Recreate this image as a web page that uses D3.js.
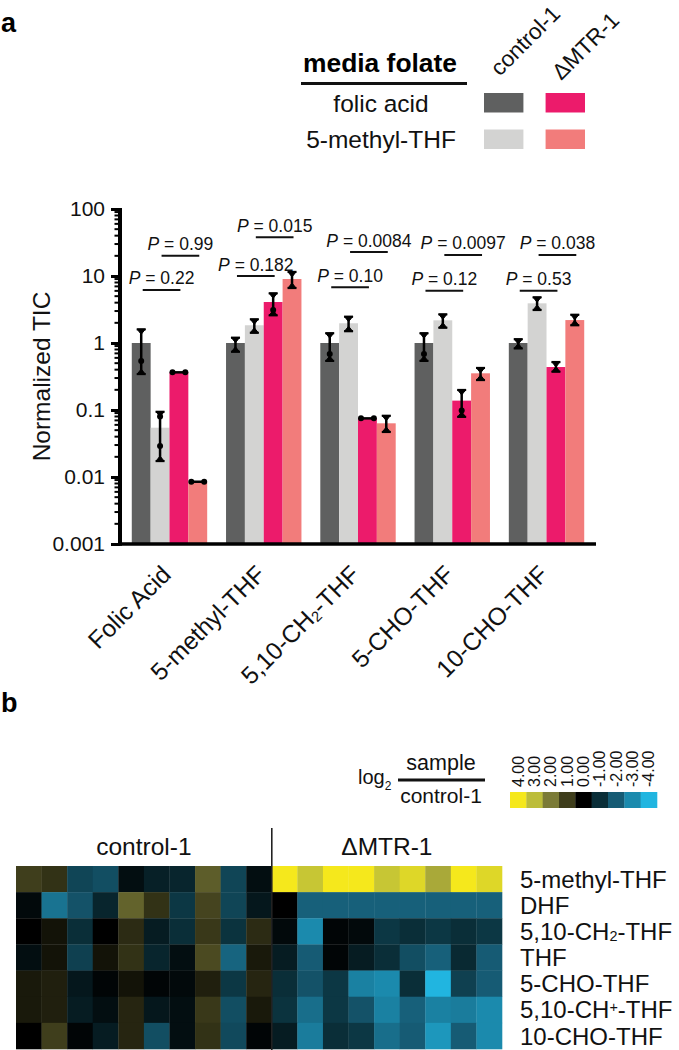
<!DOCTYPE html>
<html>
<head>
<meta charset="utf-8">
<script src="https://cdn.jsdelivr.net/npm/d3@7"></script>
<style>
  html, body { margin: 0; padding: 0; background: #fff; }
  svg { display: block; font-family: "Liberation Sans", Arial, Helvetica, sans-serif; }
</style>
</head>
<body>
<svg id="chart" width="679" height="1050"></svg>
<script>
// ---------------- DATA ----------------
const categories = ["Folic Acid", "5-methyl-THF", "5,10-CH₂-THF", "5-CHO-THF", "10-CHO-THF"];
const seriesKeys = ["ctrlFolic", "ctrlMethyl", "mtrFolic", "mtrMethyl"];
const seriesColors = ["#5f6060", "#d3d3d2", "#ec1b6b", "#f27c7b"];

const ctrlFolic   = [1, 1, 1, 1, 1];
const ctrlMethyl  = [0.0544, 1.84, 1.97, 2.18, 3.91];
const mtrFolic    = [0.365, 4.09, 0.075, 0.138, 0.438];
const mtrMethyl   = [0.0085, 9.02, 0.0633, 0.353, 2.2];

const ctrlFolicLo  = [0.344, 0.74, 0.54, 0.54, 0.83];
const ctrlFolicHi  = [1.60, 1.2, 1.40, 1.40, 1.14];
const ctrlMethylLo = [0.0173, 1.42, 1.50, 1.69, 3.11];
const ctrlMethylHi = [0.094, 2.26, 2.47, 2.68, 4.81];
const mtrFolicLo   = [0.365, 2.59, 0.075, 0.079, 0.373];
const mtrFolicHi   = [0.365, 5.52, 0.075, 0.199, 0.52];
const mtrMethylLo  = [0.0085, 6.62, 0.047, 0.28, 1.84];
const mtrMethylHi  = [0.0085, 11.5, 0.082, 0.424, 2.64];

const ctrlFolicPts  = [[0.54], [], [0.685], [0.685], []];
const ctrlMethylPts = [[0.08, 0.029], [], [], [], []];
const mtrFolicPts   = [[], [3.11], [], [0.098], []];
const mtrMethylPts  = [[], [], [], [], []];

const yTickValues = [0.001, 0.01, 0.1, 1, 10, 100];
const yTickLabels = ["0.001", "0.01", "0.1", "1", "10", "100"];

const pLow       = ["0.22", "0.182", "0.10", "0.12", "0.53"];
const pLowLevel  = [6.2, 10, 6.8, 6.0, 6.0];
const pHigh      = ["0.99", "0.015", "0.0084", "0.0097", "0.038"];
const pHighLevel = [20, 38, 22.8, 20.6, 20.6];

const legendRows = ["folic acid", "5-methyl-THF"];
const legendCols = ["control-1", "ΔMTR-1"];

const heatRows = ["5-methyl-THF", "DHF", "5,10-CH₂-THF", "THF", "5-CHO-THF", "5,10-CH⁺-THF", "10-CHO-THF"];
const heatGroups = ["control-1", "ΔMTR-1"];
const heatControl = [
  [1.0, 0.8, -1.5, -1.7, -0.3, -0.7, -0.8, 1.5, -1.5, -0.3],
  [-0.2, -2.5, -1.8, -0.8, 1.6, 0.8, -1.2, 1.1, -1.5, -0.5],
  [0.0, 0.3, -1.0, 0.0, 0.7, -0.6, -1.0, 0.9, -1.1, 0.7],
  [-0.3, 0.3, -1.4, 0.3, 0.8, -0.8, -0.3, 1.2, -2.2, 0.4],
  [0.4, 0.5, -0.5, -0.1, 0.3, -0.1, -0.2, 0.5, -1.2, 0.6],
  [0.4, 0.5, -0.6, -0.3, 0.6, -0.5, -0.3, 0.9, -1.7, 0.4],
  [0.0, 1.0, -0.1, -0.6, 0.6, -1.7, -0.3, 0.8, -1.6, -0.1]
];
const heatMTR = [
  [4.0, 3.2, 4.0, 4.0, 3.2, 3.6, 2.7, 4.0, 3.6],
  [0.0, -2.1, -2.1, -2.1, -2.1, -2.1, -2.1, -2.1, -2.1],
  [-0.2, -3.0, -0.1, -0.2, -1.2, -1.0, -1.2, -1.0, -1.2],
  [-0.6, -2.0, -0.1, -0.6, -1.0, -1.7, -2.1, -0.9, -2.0],
  [-1.0, -1.8, -1.2, -2.8, -3.0, -1.0, -4.0, -1.4, -2.0],
  [-1.1, -2.4, -1.2, -1.8, -2.8, -2.1, -2.8, -2.7, -3.0],
  [-0.6, -2.7, -1.0, -1.2, -2.4, -2.0, -3.3, -2.0, -3.0]
];

const cbValues = [4, 3, 2, 1, 0, -1, -2, -3, -4];
const cbLabels = ["4.00", "3.00", "2.00", "1.00", "0.00", "-1.00", "-2.00", "-3.00", "-4.00"];
const cbColors = ["#f5e81c", "#bcbd3a", "#7b7b37", "#3f3e1c", "#000000", "#0a2e38", "#165b74", "#1b8aad", "#21b5e0"];

// ---------------- HELPERS ----------------
const svg = d3.select("#chart");
svg.append("rect").attr("width", 679).attr("height", 1050).attr("fill", "#fff");

function richText(sel, str, fs) {
  sel.text(null);
  const parts = str.split(/([₂⁺])/);
  parts.forEach(p => {
    if (!p) return;
    if (p === "₂") {
      sel.append("tspan").attr("font-size", fs * 0.6).attr("baseline-shift", "-10%").text("2");
    } else if (p === "⁺") {
      sel.append("tspan").attr("font-size", fs * 0.6).attr("baseline-shift", "45%").text("+");
    } else {
      sel.append("tspan").text(p);
    }
  });
}

// ---------------- PANEL LABELS ----------------
svg.append("text").attr("x", 1).attr("y", 32).attr("font-size", 27).attr("font-weight", "bold").text("a");
svg.append("text").attr("x", 1).attr("y", 712).attr("font-size", 27).attr("font-weight", "bold").text("b");

// ---------------- LEGEND ----------------
const lg = svg.append("g");
lg.append("text").attr("x", 380).attr("y", 72).attr("text-anchor", "middle")
  .attr("font-size", 25).attr("font-weight", "bold")
  .attr("textLength", 154).attr("lengthAdjust", "spacingAndGlyphs").text("media folate");
lg.append("line").attr("x1", 301).attr("x2", 467).attr("y1", 83.5).attr("y2", 83.5)
  .attr("stroke", "#111").attr("stroke-width", 3);
const legRowY = d3.scaleBand().domain(legendRows).range([93, 149]).paddingInner(0.466);
const legColX = d3.scaleBand().domain(legendCols).range([484, 585]).paddingInner(0.36);
legendRows.forEach((r, ri) => {
  lg.append("text").attr("x", 381).attr("y", legRowY(r) + legRowY.bandwidth() / 2)
    .attr("dy", "0.36em").attr("text-anchor", "middle").attr("font-size", 24.5).attr("fill", "#111").text(r);
  legendCols.forEach((c, ci) => {
    lg.append("rect").attr("x", legColX(c)).attr("y", legRowY(r))
      .attr("width", legColX.bandwidth()).attr("height", legRowY.bandwidth())
      .attr("fill", seriesColors[ci * 2 + ri]);
  });
});
legendCols.forEach((c, ci) => {
  const x0 = legColX(c) + legColX.bandwidth() / 2 - 4;
  lg.append("text").attr("transform", `translate(${x0},${ci === 0 ? 77 : 81}) rotate(-45)`)
    .attr("font-size", 22.5).attr("fill", "#111").text(c);
});

// ---------------- BAR CHART ----------------
const x = d3.scaleBand().domain(categories).range([120, 596]).paddingInner(0.2).paddingOuter(0.125);
const xs = d3.scaleBand().domain(seriesKeys).range([0, x.bandwidth()]).padding(0);
const y = d3.scaleLog().domain([0.001, 100]).range([544, 209]);

const values = { ctrlFolic, ctrlMethyl, mtrFolic, mtrMethyl };
const los = { ctrlFolic: ctrlFolicLo, ctrlMethyl: ctrlMethylLo, mtrFolic: mtrFolicLo, mtrMethyl: mtrMethylLo };
const his = { ctrlFolic: ctrlFolicHi, ctrlMethyl: ctrlMethylHi, mtrFolic: mtrFolicHi, mtrMethyl: mtrMethylHi };
const pts = { ctrlFolic: ctrlFolicPts, ctrlMethyl: ctrlMethylPts, mtrFolic: mtrFolicPts, mtrMethyl: mtrMethylPts };

const barData = [];
categories.forEach((cat, ci) => {
  seriesKeys.forEach((k, si) => {
    barData.push({ cat, key: k, si, v: values[k][ci], lo: los[k][ci], hi: his[k][ci], pts: pts[k][ci] });
  });
});

const bars = svg.append("g");
bars.selectAll("rect").data(barData).join("rect")
  .attr("x", d => x(d.cat) + xs(d.key))
  .attr("width", xs.bandwidth())
  .attr("y", d => y(d.v))
  .attr("height", d => y(0.001) - y(d.v))
  .attr("fill", d => seriesColors[d.si]);

// error bars
const eb = svg.append("g").attr("fill", "#000").attr("stroke", "#000");
barData.forEach(d => {
  const cx = x(d.cat) + xs(d.key) + xs.bandwidth() / 2;
  if (d.lo === d.hi) {
    const x0 = x(d.cat) + xs(d.key) + 3, x1 = x(d.cat) + xs(d.key) + xs.bandwidth() - 3;
    eb.append("line").attr("x1", x0).attr("x2", x1).attr("y1", y(d.v)).attr("y2", y(d.v)).attr("stroke-width", 2.5);
    [x0, x1].forEach(px => eb.append("circle").attr("cx", px).attr("cy", y(d.v)).attr("r", 3).attr("stroke", "none"));
    return;
  }
  const yh = y(d.hi), yl = y(d.lo);
  eb.append("line").attr("x1", cx).attr("x2", cx).attr("y1", yh).attr("y2", yl).attr("stroke-width", 2.5);
  eb.append("path").attr("stroke-width", 1).attr("stroke-linejoin", "round")
    .attr("d", `M${cx - 4},${yh} L${cx + 4},${yh} L${cx},${yh + 5} Z`);
  eb.append("path").attr("stroke-width", 1).attr("stroke-linejoin", "round")
    .attr("d", `M${cx - 4},${yl} L${cx + 4},${yl} L${cx},${yl - 5} Z`);
  eb.append("line").attr("x1", cx - 4.5).attr("x2", cx + 4.5).attr("y1", yh).attr("y2", yh).attr("stroke-width", 2.2);
  eb.append("line").attr("x1", cx - 4.5).attr("x2", cx + 4.5).attr("y1", yl).attr("y2", yl).attr("stroke-width", 2.2);
  d.pts.forEach(p => eb.append("circle").attr("cx", cx).attr("cy", y(p)).attr("r", 3).attr("stroke", "none"));
});

// y axis
const yAxisG = svg.append("g").attr("transform", "translate(120,0)");
const minorTicks = [];
for (let e = -3; e < 2; e++) for (let m = 2; m <= 9; m++) minorTicks.push(m * Math.pow(10, e));
yAxisG.selectAll("line.minor").data(minorTicks).join("line").attr("class", "minor")
  .attr("x1", -5.5).attr("x2", 0).attr("y1", d => y(d)).attr("y2", d => y(d))
  .attr("stroke", "#000").attr("stroke-width", 2);
const yAxis = d3.axisLeft(y).tickValues(yTickValues).tickFormat((d, i) => yTickLabels[i]).tickSize(9).tickPadding(6);
yAxisG.call(yAxis);
yAxisG.select(".domain").remove();
yAxisG.selectAll(".tick line").attr("stroke", "#000").attr("stroke-width", 3);
yAxisG.selectAll(".tick text").attr("font-size", 21).attr("fill", "#111")
  .attr("font-family", "'Liberation Sans', Arial, sans-serif");
yAxisG.append("line").attr("x1", 0).attr("x2", 0).attr("y1", y(100) - 1).attr("y2", y(0.001) + 1.75)
  .attr("stroke", "#000").attr("stroke-width", 4);

// x axis
svg.append("line").attr("x1", 118).attr("x2", 596).attr("y1", y(0.001)).attr("y2", y(0.001))
  .attr("stroke", "#000").attr("stroke-width", 3.5);
const xLabG = svg.append("g");
categories.forEach(cat => {
  const t = xLabG.append("text")
    .attr("transform", `translate(${x(cat) + x.bandwidth() / 2 + 3},${576}) rotate(-45)`)
    .attr("text-anchor", "end").attr("font-size", 24.5).attr("fill", "#111");
  richText(t, cat, 24.5);
});

// y label
svg.append("text").attr("transform", `translate(50,${(y(100) + y(0.001)) / 2}) rotate(-90)`)
  .attr("text-anchor", "middle").attr("font-size", 24.5).attr("fill", "#111").text("Normalized TIC");

// p-value annotations
const pg = svg.append("g");
categories.forEach((cat, ci) => {
  const defs = [
    { a: "ctrlFolic", b: "mtrFolic", lvl: pLowLevel[ci], txt: pLow[ci] },
    { a: "ctrlMethyl", b: "mtrMethyl", lvl: pHighLevel[ci], txt: pHigh[ci] }
  ];
  defs.forEach(dd => {
    const x1 = x(cat) + xs(dd.a) + xs.bandwidth() / 2 + 1.5;
    const x2 = x(cat) + xs(dd.b) + xs.bandwidth() / 2 + 1.5;
    const yy = y(dd.lvl);
    pg.append("line").attr("x1", x1).attr("x2", x2).attr("y1", yy).attr("y2", yy)
      .attr("stroke", "#111").attr("stroke-width", 2);
    const t = pg.append("text").attr("x", (x1 + x2) / 2).attr("y", yy - 5.5)
      .attr("text-anchor", "middle").attr("font-size", 17.5).attr("fill", "#111");
    t.append("tspan").attr("font-style", "italic").text("P");
    t.append("tspan").text(" = " + dd.txt);
  });
});

// ---------------- HEATMAP ----------------
const colIds = [];
heatControl[0].forEach((_, i) => colIds.push("c" + i));
heatMTR[0].forEach((_, i) => colIds.push("m" + i));
const hx = d3.scaleBand().domain(colIds).range([16, 502]).padding(0);
const hy = d3.scaleBand().domain(heatRows).range([866, 1049]).padding(0);
const color = d3.scaleLinear().domain(cbValues).range(cbColors).clamp(true);

const cells = [];
heatRows.forEach((r, ri) => {
  heatControl[ri].forEach((v, i) => cells.push({ r, c: "c" + i, v }));
  heatMTR[ri].forEach((v, i) => cells.push({ r, c: "m" + i, v }));
});
svg.append("g").selectAll("rect").data(cells).join("rect")
  .attr("x", d => hx(d.c)).attr("y", d => hy(d.r))
  .attr("width", hx.bandwidth() + 0.3).attr("height", hy.bandwidth() + 0.3)
  .attr("fill", d => color(d.v));

const sepX = hx("m0");
svg.append("line").attr("x1", sepX).attr("x2", sepX).attr("y1", 828).attr("y2", 1050)
  .attr("stroke", "#222").attr("stroke-width", 1.6);

const ctrlMid = (hx("c0") + sepX) / 2;
const mtrMid = (sepX + hx.range()[1]) / 2;
[[heatGroups[0], ctrlMid], [heatGroups[1], mtrMid]].forEach(([g, cx]) => {
  svg.append("text").attr("x", cx).attr("y", 855).attr("text-anchor", "middle")
    .attr("font-size", 24.5).attr("fill", "#111").text(g);
});

heatRows.forEach(r => {
  const t = svg.append("text").attr("x", 520).attr("y", hy(r) + hy.bandwidth() / 2).attr("dy", "0.36em")
    .attr("font-size", 24).attr("fill", "#111");
  richText(t, r, 24);
});

// colorbar
const cbx = d3.scaleBand().domain(cbLabels).range([510, 657]).padding(0);
svg.append("g").selectAll("rect").data(cbLabels).join("rect")
  .attr("x", d => cbx(d)).attr("y", 792).attr("width", cbx.bandwidth() + 0.3).attr("height", 16)
  .attr("fill", (d, i) => cbColors[i]);
cbLabels.forEach(l => {
  svg.append("text").attr("transform", `translate(${cbx(l) + cbx.bandwidth() / 2 + 5.5},787) rotate(-90)`)
    .attr("font-size", 16).attr("fill", "#111").text(l);
});

const ct = svg.append("text").attr("x", 358).attr("y", 784).attr("font-size", 20).attr("fill", "#111");
ct.append("tspan").text("log");
ct.append("tspan").attr("font-size", 12).attr("dy", 6).text("2");
svg.append("text").attr("x", 441).attr("y", 770).attr("text-anchor", "middle").attr("font-size", 21.5).attr("fill", "#111").text("sample");
svg.append("line").attr("x1", 398).attr("x2", 485).attr("y1", 780).attr("y2", 780).attr("stroke", "#111").attr("stroke-width", 3);
svg.append("text").attr("x", 441).attr("y", 803).attr("text-anchor", "middle").attr("font-size", 21).attr("fill", "#111").text("control-1");
</script>
</body>
</html>
